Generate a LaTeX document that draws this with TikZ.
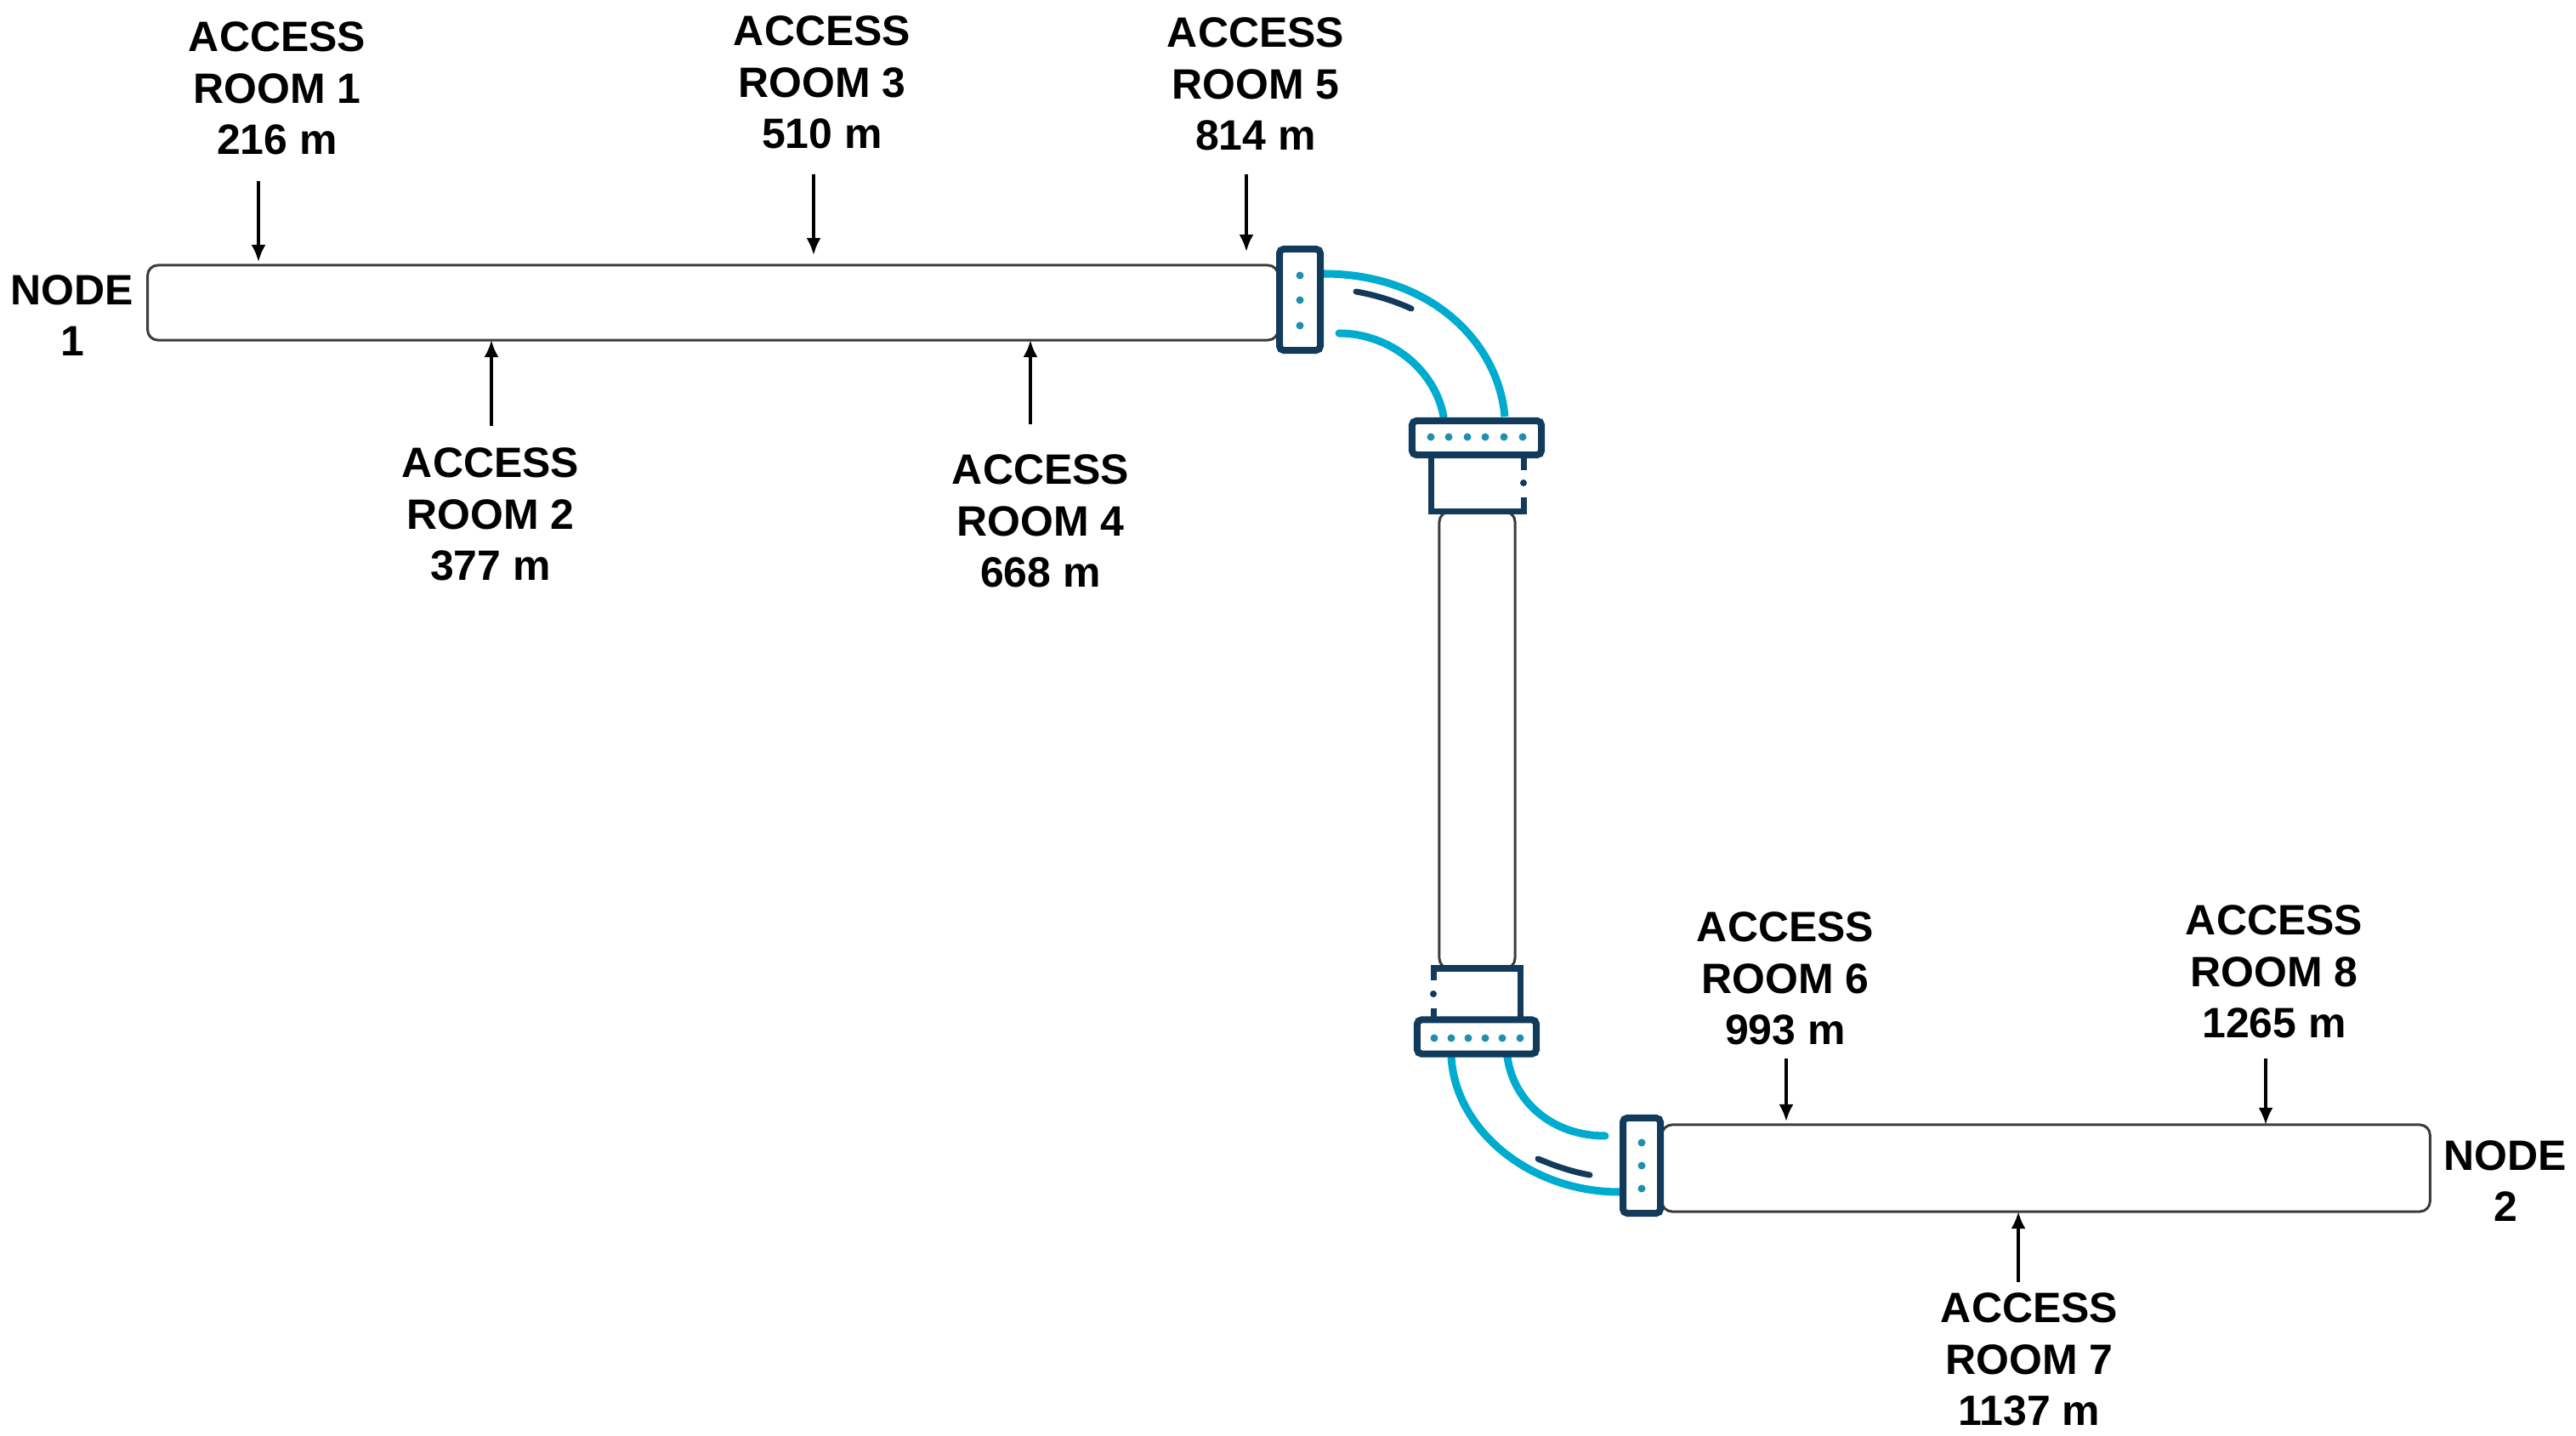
\documentclass[tikz,border=0pt]{standalone}
\usepackage{fontspec}
\usetikzlibrary{arrows.meta}
\setmainfont{Liberation Sans}
\definecolor{pipecyan}{HTML}{00ABD0}
\definecolor{flangenavy}{HTML}{123A5A}
\definecolor{flangedot}{HTML}{1F8FAD}
\definecolor{tubegray}{HTML}{3C3C3C}
\begin{document}
\begin{tikzpicture}
    \def\dx{0.01cm}
    \def\dy{-0.01cm}

    \tikzstyle{label}=[inner sep=0pt,align=center,font=\bfseries\fontsize{14.2}{17.2}\selectfont]
    \tikzstyle{tube}=[draw=tubegray,fill=white,line width=0.03cm,rounded corners=0.12cm,inner sep=0pt,outer sep=0pt]
    \tikzstyle{flange}=[draw=flangenavy,fill=white,line width=0.08cm,rounded corners=0.05cm,inner sep=0pt]
    \tikzstyle{collar}=[draw=flangenavy,line width=0.07cm]
    \tikzstyle{pipebend}=[draw=pipecyan,line width=0.09cm,line cap=round]
    \tikzstyle{inset}=[draw=flangenavy,line width=0.07cm,line cap=round]
    \tikzstyle{pin}=[fill=flangedot]

    \useasboundingbox (0,0) rectangle (3030*\dx,1689*\dy);

    % tubes
    \node[tube,minimum width=13.29cm,minimum height=0.88cm] (tube1) at (838.5*\dx,356*\dy) {};
    \node[tube,minimum width=0.89cm,minimum height=5.37cm] (tube2) at (1737.5*\dx,870.5*\dy) {};
    \node[tube,minimum width=9.03cm,minimum height=1.02cm] (tube3) at (2406.5*\dx,1374*\dy) {};

    % collars
    \draw[collar] (1792*\dx,585*\dy) -- (1792*\dx,602*\dy) -- (1683*\dx,602*\dy) -- (1683*\dx,535*\dy);
    \draw[collar] (1792*\dx,535*\dy) -- (1792*\dx,553*\dy);
    \fill[flangenavy] (1792*\dx,568*\dy) circle (0.04cm);
    \draw[collar] (1686*\dx,1153*\dy) -- (1686*\dx,1139*\dy) -- (1788*\dx,1139*\dy) -- (1788*\dx,1199*\dy);
    \draw[collar] (1686*\dx,1186*\dy) -- (1686*\dx,1199*\dy);
    \fill[flangenavy] (1686*\dx,1169*\dy) circle (0.04cm);

    % bends
    \draw[pipebend,line cap=butt] (1557*\dx,322*\dy) .. controls (1680*\dx,322*\dy) and (1762*\dx,400*\dy) .. (1770*\dx,490*\dy);
    \draw[pipebend] (1575*\dx,392*\dy) .. controls (1635*\dx,392*\dy) and (1688*\dx,435*\dy) .. (1698*\dx,490*\dy);
    \draw[inset] (1595*\dx,343*\dy) .. controls (1618*\dx,347*\dy) and (1640*\dx,354*\dy) .. (1660*\dx,363*\dy);
    \draw[pipebend,line cap=butt] (1707*\dx,1243*\dy) .. controls (1712*\dx,1330*\dy) and (1800*\dx,1402*\dy) .. (1905*\dx,1402*\dy);
    \draw[pipebend] (1773*\dx,1243*\dy) .. controls (1780*\dx,1295*\dy) and (1825*\dx,1336*\dy) .. (1888*\dx,1336*\dy);
    \draw[inset] (1809*\dx,1363*\dy) .. controls (1828*\dx,1371*\dy) and (1848*\dx,1378*\dy) .. (1870*\dx,1382*\dy);

    % flanges
    \node[flange,minimum width=0.48cm,minimum height=1.19cm] (fl1) at (1529*\dx,352.5*\dy) {};
    \node[flange,minimum width=1.52cm,minimum height=0.40cm] (fl2) at (1737*\dx,515*\dy) {};
    \node[flange,minimum width=1.40cm,minimum height=0.40cm] (fl3) at (1737*\dx,1219.5*\dy) {};
    \node[flange,minimum width=0.44cm,minimum height=1.12cm] (fl4) at (1931*\dx,1371*\dy) {};

    \fill[pin] (1529*\dx,324*\dy) circle (0.045cm) (1529*\dx,353*\dy) circle (0.045cm) (1529*\dx,383*\dy) circle (0.045cm);
    \fill[pin] (1683*\dx,514*\dy) circle (0.045cm) (1704*\dx,514*\dy) circle (0.045cm) (1726*\dx,514*\dy) circle (0.045cm) (1747*\dx,514*\dy) circle (0.045cm) (1769*\dx,514*\dy) circle (0.045cm) (1791*\dx,514*\dy) circle (0.045cm);
    \fill[pin] (1687*\dx,1221*\dy) circle (0.045cm) (1707*\dx,1221*\dy) circle (0.045cm) (1727*\dx,1221*\dy) circle (0.045cm) (1747*\dx,1221*\dy) circle (0.045cm) (1767*\dx,1221*\dy) circle (0.045cm) (1788*\dx,1221*\dy) circle (0.045cm);
    \fill[pin] (1931*\dx,1344*\dy) circle (0.045cm) (1931*\dx,1371*\dy) circle (0.045cm) (1931*\dx,1398*\dy) circle (0.045cm);

    % labels
    \node[label] (node1) at (85*\dx,371*\dy) {NODE\\1};
    \node[label] (node2) at (2947*\dx,1389*\dy) {NODE\\2};
    \node[label] (room1) at (326*\dx,104*\dy) {ACCESS\\ROOM 1\\216 m};
    \node[label] (room2) at (577*\dx,605*\dy) {ACCESS\\ROOM 2\\377 m};
    \node[label] (room3) at (967*\dx,97*\dy) {ACCESS\\ROOM 3\\510 m};
    \node[label] (room4) at (1224*\dx,613*\dy) {ACCESS\\ROOM 4\\668 m};
    \node[label] (room5) at (1477*\dx,99*\dy) {ACCESS\\ROOM 5\\814 m};
    \node[label] (room6) at (2100*\dx,1151*\dy) {ACCESS\\ROOM 6\\993 m};
    \node[label] (room7) at (2387*\dx,1599*\dy) {ACCESS\\ROOM 7\\1137 m};
    \node[label] (room8) at (2675*\dx,1143*\dy) {ACCESS\\ROOM 8\\1265 m};

    \coordinate (a1) at (304*\dx,213*\dy);
    \coordinate (a2) at (578*\dx,501*\dy);
    \coordinate (a3) at (957*\dx,205*\dy);
    \coordinate (a4) at (1212*\dx,499*\dy);
    \coordinate (a5) at (1466*\dx,205*\dy);
    \coordinate (a6) at (2101*\dx,1245*\dy);
    \coordinate (a7) at (2374*\dx,1508*\dy);
    \coordinate (a8) at (2665*\dx,1245*\dy);

    \tikzstyle{fwd} = [draw=black, line width=0.035cm, -{Latex[length=0.2cm,width=0.17cm]}]

          \draw [fwd,shorten >=0.04cm] (a1) -- (a1 |- tube1.north);
          \draw [fwd] (a2) -- (a2 |- tube1.south);
          \draw [fwd,shorten >=0.12cm] (a3) -- (a3 |- tube1.north);
          \draw [fwd] (a4) -- (a4 |- tube1.south);
          \draw [fwd,shorten >=0.16cm] (a5) -- (a5 |- tube1.north);
          \draw [fwd,shorten >=0.04cm] (a6) -- (a6 |- tube3.north);
          \draw [fwd] (a7) -- (a7 |- tube3.south);
          \draw [fwd] (a8) -- (a8 |- tube3.north);

  \end{tikzpicture}
\end{document}
